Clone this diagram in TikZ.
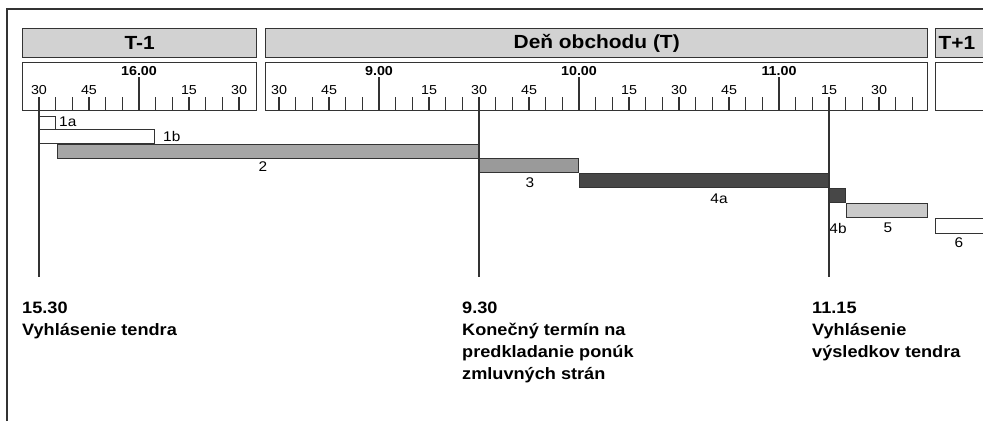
\documentclass[tikz,border=0pt]{standalone}
\usepackage{fontspec}
\setmainfont{Liberation Sans}
\newfontfamily\wide[FakeStretch=1.1]{Liberation Sans}
\definecolor{ink}{HTML}{333333}
\definecolor{hdrgray}{HTML}{D2D2D2}
\definecolor{gtwo}{HTML}{A6A6A6}
\definecolor{gthree}{HTML}{9A9A9A}
\definecolor{gfour}{HTML}{474747}
\definecolor{gfive}{HTML}{CACACA}
\begin{document}
\begin{tikzpicture}[x=1pt,y=-1pt,
  hdr/.style={draw=ink,line width=1.4pt,fill=hdrgray,anchor=north west,minimum height=29pt,inner sep=0pt,font=\wide\fontsize{19}{22}\selectfont\bfseries},
  rul/.style={draw=ink,line width=1.4pt,fill=white,anchor=north west,minimum height=48pt,inner sep=0pt},
  barbox/.style={draw=ink,line width=1.1pt,anchor=north west,inner sep=0pt},
  tickline/.style={ink,line width=1.1pt},
  minlbl/.style={font=\wide\fontsize{13}{14}\selectfont,inner sep=0pt},
  hourlbl/.style={font=\wide\fontsize{13}{14}\selectfont\bfseries,inner sep=0pt},
  barlbl/.style={font=\wide\fontsize{14}{15}\selectfont,inner sep=0pt},
  evlbl/.style={font=\wide\fontsize{16.5}{22}\selectfont\bfseries,inner sep=0pt,anchor=north west,align=left},
  vline/.style={ink,line width=1.1pt}]
\useasboundingbox (0,0) rectangle (983,421);
\clip (0,0) rectangle (983,421);
% frame
\draw[ink,line width=1.4pt] (7,421) -- (7,9) -- (990,9);
% headers
\node[hdr,minimum width=234pt] (hT1) at (22,28) {T-1};
\node[hdr,minimum width=662pt] (hT) at (265,28) {Deň obchodu (T)};
\node[hdr,minimum width=70pt,text width=64pt,align=left,inner xsep=3pt] (hT2) at (935,28) {T+1};
% rulers
\node[rul,minimum width=234pt] (rT1) at (22,62) {};
\node[rul,minimum width=662pt] (rT) at (265,62) {};
\node[rul,minimum width=70pt] (rT2) at (935,62) {};
% ticks T-1
\foreach \i in {0,...,12}{
  \pgfmathsetmacro{\xx}{39+\i*50/3}
  \ifnum\i=6
    \draw[tickline] (\xx,110) -- (\xx,77);
  \else
    \draw[tickline] (\xx,110) -- (\xx,97);
  \fi
}
\foreach \i/\t in {0/30,3/45,9/15,12/30}{
  \node[minlbl] (lT1\i) at ({39+\i*50/3},90) {\t};
}
\node[hourlbl] (h16) at (139,71) {16.00};
% ticks T
\foreach \i in {0,...,38}{
  \pgfmathsetmacro{\xx}{279+\i*50/3}
  \pgfmathtruncatemacro{\r}{mod(\i-6,12)}
  \ifnum\r=0
    \draw[tickline] (\xx,110) -- (\xx,77);
  \else
    \draw[tickline] (\xx,110) -- (\xx,97);
  \fi
}
\foreach \i/\t in {0/30,3/45,9/15,12/30,15/45,21/15,24/30,27/45,33/15,36/30}{
  \node[minlbl] (lT\i) at ({279+\i*50/3},90) {\t};
}
\node[hourlbl] (h9) at (379,71) {9.00};
\node[hourlbl] (h10) at (579,71) {10.00};
\node[hourlbl] (h11) at (779,71) {11.00};
% bars
\node[barbox,fill=white,minimum width=16pt,minimum height=13pt] (b1a) at (39,116) {};
\node[barbox,fill=white,minimum width=115pt,minimum height=14pt] (b1b) at (39,129) {};
\node[barbox,fill=gtwo,minimum width=422pt,minimum height=14pt] (b2) at (57,144) {};
\node[barbox,fill=gthree,minimum width=99pt,minimum height=14pt] (b3) at (479,158) {};
\node[barbox,fill=gfour,minimum width=250pt,minimum height=14pt] (b4a) at (579,173) {};
\node[barbox,fill=gfour,minimum width=16pt,minimum height=14pt] (b4b) at (829,188) {};
\node[barbox,fill=gfive,minimum width=81pt,minimum height=14pt] (b5) at (846,203) {};
\node[barbox,fill=white,minimum width=60pt,minimum height=15pt] (b6) at (935,218) {};
% bar labels
\node[barlbl,anchor=west] (t1a) at (59,122) {1a};
\node[barlbl,anchor=west] (t1b) at (163,136) {1b};
\node[barlbl] (t2) at (263,167) {2};
\node[barlbl] (t3) at (530,183) {3};
\node[barlbl] (t4a) at (719,199) {4a};
\node[barlbl] (t4b) at (838,228) {4b};
\node[barlbl] (t5) at (888,228) {5};
\node[barlbl] (t6) at (959,243) {6};
% vertical event lines
\coordinate (e1t) at (39,110); \coordinate (e1b) at (39,277);
\coordinate (e2t) at (479,110); \coordinate (e2b) at (479,277);
\coordinate (e3t) at (829,110); \coordinate (e3b) at (829,277);
\draw[vline] (e1t) -- (e1b);
\draw[vline] (e2t) -- (e2b);
\draw[vline] (e3t) -- (e3b);
% event labels
\node[evlbl] (ev1) at (22,302) {15.30\\Vyhlásenie tendra};
\node[evlbl] (ev2) at (462,302) {9.30\\Konečný termín na\\predkladanie ponúk\\zmluvných strán};
\node[evlbl] (ev3) at (812,302) {11.15\\Vyhlásenie\\výsledkov tendra};
\end{tikzpicture}
\end{document}
